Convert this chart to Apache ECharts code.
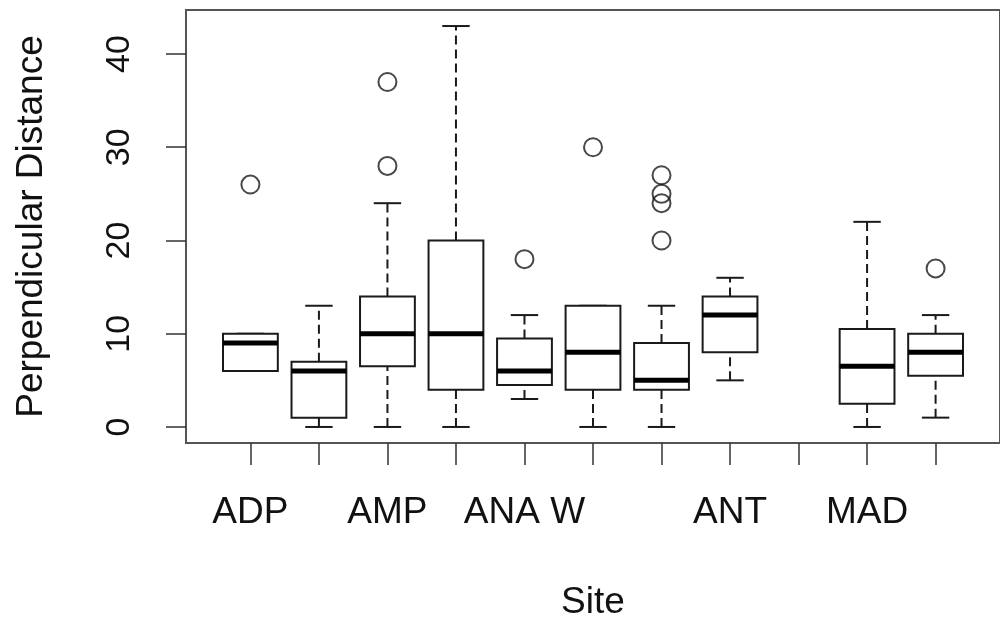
<!DOCTYPE html>
<html>
<head>
<meta charset="utf-8">
<script src="https://cdn.jsdelivr.net/npm/echarts@6/dist/echarts.min.js"></script>
<style>
  html, body { margin: 0; padding: 0; background: #fff; }
  #main { width: 1000px; height: 626px; }
</style>
</head>
<body>
<div id="main"></div>
<script>
// site names at each tick (R only printed the ones that fit)
const siteLabels = ['ADP', '', 'AMP', '', 'ANA W', '', '', 'ANT', '', 'MAD', ''];
const tickPositions = [1, 2, 3, 4, 5, 6, 7, 8, 9, 10, 11];
const yTicks = [0, 10, 20, 30, 40];

// box statistics, one entry per drawn box (position 9 is empty)
const boxPositions  = [1, 2, 3, 4, 5, 6, 7, 8, 10, 11];
const lowWhisker    = [6, 0, 0, 0, 3, 0, 0, 5, 0, 1];
const lowerQuartile = [6, 1, 6.5, 4, 4.5, 4, 4, 8, 2.5, 5.5];
const medians       = [9, 6, 10, 10, 6, 8, 5, 12, 6.5, 8];
const upperQuartile = [10, 7, 14, 20, 9.5, 13, 9, 14, 10.5, 10];
const highWhisker   = [10, 13, 24, 43, 12, 13, 13, 16, 22, 12];

// outliers
const outlierX = [1, 3, 3, 5, 6, 7, 7, 7, 7, 11];
const outlierY = [26, 37, 28, 18, 30, 27, 25, 24, 20, 17];

const boxData = boxPositions.map((p, i) =>
  [p, lowWhisker[i], lowerQuartile[i], medians[i], upperQuartile[i], highWhisker[i]]);
const outlierData = outlierX.map((x, i) => [x, outlierY[i]]);

const ink = '#1a1a1a';
const font = 'Liberation Sans, Arial, Helvetica, sans-serif';

function renderBox(params, api) {
  const x = api.value(0);
  const lo = api.coord([x, api.value(1)]);
  const q1 = api.coord([x, api.value(2)]);
  const med = api.coord([x, api.value(3)]);
  const q3 = api.coord([x, api.value(4)]);
  const hi = api.coord([x, api.value(5)]);
  const w = api.size([0.8, 0])[0];
  const cx = q1[0];
  const half = w / 2;
  const cap = w / 4;
  const dashed = { stroke: ink, lineWidth: 2, lineDash: [9, 5] };
  const solid = { stroke: ink, lineWidth: 2 };
  return {
    type: 'group',
    children: [
      { type: 'line', shape: { x1: cx, y1: q3[1], x2: cx, y2: hi[1] }, style: dashed },
      { type: 'line', shape: { x1: cx, y1: lo[1], x2: cx, y2: q1[1] }, style: dashed },
      { type: 'line', shape: { x1: cx - cap, y1: hi[1], x2: cx + cap, y2: hi[1] }, style: solid },
      { type: 'line', shape: { x1: cx - cap, y1: lo[1], x2: cx + cap, y2: lo[1] }, style: solid },
      { type: 'rect', shape: { x: cx - half, y: q3[1], width: w, height: q1[1] - q3[1] },
        style: { fill: '#fff', stroke: ink, lineWidth: 2 } },
      { type: 'line', shape: { x1: cx - half, y1: med[1], x2: cx + half, y2: med[1] },
        style: { stroke: '#000', lineWidth: 5 } }
    ]
  };
}

const chart = echarts.init(document.getElementById('main'));
chart.setOption({
  backgroundColor: '#fff',
  animation: false,
  grid: {
    left: 186, right: -5, top: 10, bottom: 183,
    show: true, borderColor: '#555', borderWidth: 2, backgroundColor: 'transparent'
  },
  xAxis: {
    type: 'value', min: 0.06, max: 11.94,
    name: 'Site', nameLocation: 'middle', nameGap: 141,
    nameTextStyle: { fontSize: 37, color: '#111', fontFamily: font },
    axisLine: { show: false, onZero: false },
    splitLine: { show: false },
    axisTick: { show: true, length: 22, customValues: tickPositions,
      lineStyle: { color: '#333', width: 1.5 } },
    axisLabel: {
      customValues: tickPositions.filter((p, i) => siteLabels[i] !== ''),
      formatter: v => siteLabels[Math.round(v) - 1],
      fontSize: 37, color: '#111', fontFamily: font, margin: 51
    }
  },
  yAxis: {
    type: 'value', min: -1.72, max: 44.72,
    name: 'Perpendicular Distance', nameLocation: 'middle', nameGap: 136,
    nameTextStyle: { fontSize: 37, color: '#111', fontFamily: font },
    axisLine: { show: false, onZero: false },
    splitLine: { show: false },
    axisTick: { show: true, length: 20, customValues: yTicks,
      lineStyle: { color: '#333', width: 1.5 } },
    axisLabel: {
      customValues: yTicks, rotate: 90,
      fontSize: 34, color: '#111', fontFamily: font, margin: 49
    }
  },
  series: [
    {
      type: 'custom',
      renderItem: renderBox,
      data: boxData,
      encode: { x: 0, y: [1, 2, 3, 4, 5] }
    },
    {
      type: 'scatter',
      data: outlierData,
      symbol: 'circle',
      symbolSize: 18,
      itemStyle: { color: 'rgba(0,0,0,0)', borderColor: ink, borderWidth: 2 }
    }
  ]
});
</script>
</body>
</html>
